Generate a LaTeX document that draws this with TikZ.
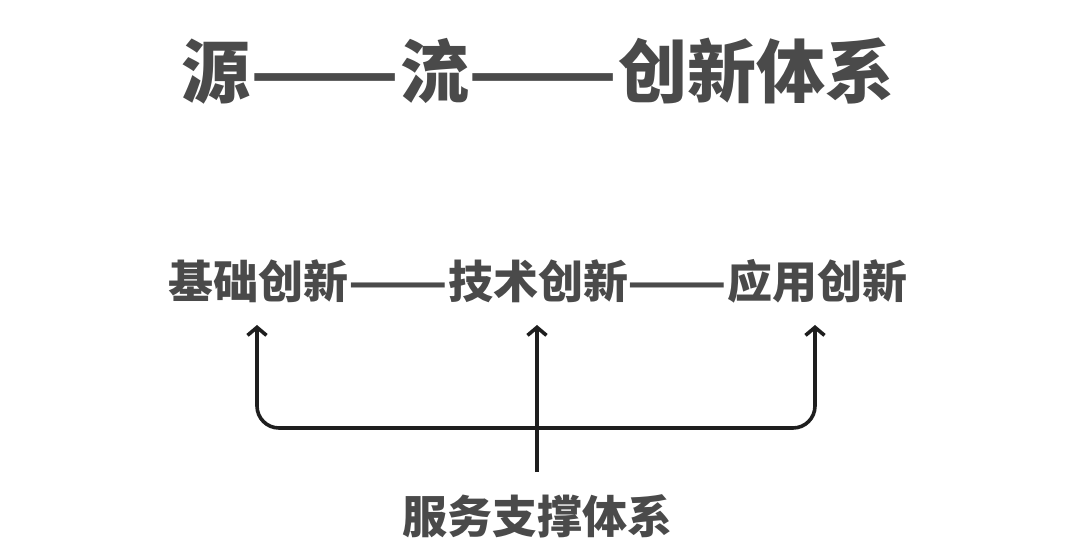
\documentclass[tikz,border=0pt]{standalone}
\usepackage{fontspec}
\newfontfamily\cjk{Noto Sans CJK SC}
\usetikzlibrary{arrows.meta}
\definecolor{txtgray}{HTML}{4A4A4A}
\definecolor{linedark}{HTML}{1E1E1E}
\newcommand\wdash[1]{\scalebox{#1}[1]{——}}
\tikzset{
  titletext/.style={font=\cjk\bfseries\fontsize{69}{69}\selectfont, text=txtgray, inner sep=0pt},
  rowtext/.style={font=\cjk\bfseries\fontsize{45}{45}\selectfont, text=txtgray, inner sep=0pt},
  basetext/.style={font=\cjk\bfseries\fontsize{45}{45}\selectfont, text=txtgray, inner sep=0pt},
  conn/.style={draw=linedark, line width=3.6pt, line cap=butt,
    arrows={-Straight Barb[length=8pt,width=19pt]}},
}
\begin{document}
\begin{tikzpicture}[x=1pt,y=-1pt]
\useasboundingbox (0,0) rectangle (1080,556);
\node[titletext] (title) at (538,71) {源\wdash{1.26}流\wdash{1.26}创新体系};
\node[rowtext] (row) at (538,281) {基础创新\wdash{1.29}技术创新\wdash{1.29}应用创新};
\node[basetext] (base) at (537,516) {服务支撑体系};
\coordinate (tipL) at (257,325);
\coordinate (tipC) at (537,325);
\coordinate (tipR) at (815,325);
\coordinate (cornL) at (257,428);
\coordinate (cornR) at (815,428);
\coordinate (stemC) at (537,472);
\draw[conn, arrows={Straight Barb[length=8pt,width=19pt]-Straight Barb[length=8pt,width=19pt]}, rounded corners=22pt]
  (tipL) -- (cornL) -- (cornR) -- (tipR);
\draw[conn] (stemC) -- (tipC);
\end{tikzpicture}
\end{document}
